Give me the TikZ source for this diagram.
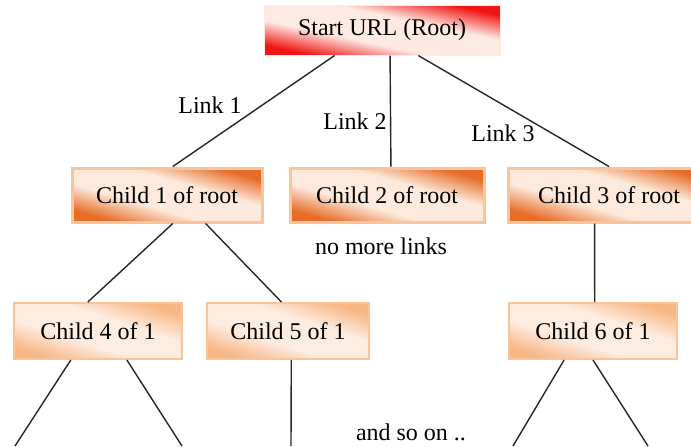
\documentclass[tikz,border=0pt]{standalone}
\usepackage{fontspec}
\setmainfont{Liberation Serif}
\usetikzlibrary{calc}

\definecolor{rootred}{RGB}{240,20,20}
\definecolor{rootlight}{RGB}{253,234,226}
\definecolor{orgdark}{RGB}{230,108,40}
\definecolor{orglight}{RGB}{253,234,220}
\definecolor{orgedge}{RGB}{250,196,152}
\definecolor{leafdark}{RGB}{247,182,132}
\definecolor{leaflight}{RGB}{253,236,224}

% fades, dark at both ends
\pgfdeclarehorizontalshading{rootfade}{100bp}{color(0bp)=(rootred); color(26bp)=(rootred);
    color(41bp)=(rootlight); color(59bp)=(rootlight); color(74bp)=(rootred); color(100bp)=(rootred)}
\pgfdeclarehorizontalshading{childfade}{100bp}{color(0bp)=(orgdark); color(26bp)=(orgdark);
    color(41bp)=(orglight); color(59bp)=(orglight); color(74bp)=(orgdark); color(100bp)=(orgdark)}
\pgfdeclarehorizontalshading{leaffade}{100bp}{color(0bp)=(leafdark); color(25bp)=(leafdark);
    color(41bp)=(leaflight); color(59bp)=(leaflight); color(75bp)=(leafdark); color(100bp)=(leafdark)}

\tikzset{
    rootbox/.style={rectangle, draw=rootlight, line width=0.5pt,
        shading=rootfade, shading angle=78, minimum width=118pt, minimum height=25pt},
    childbox/.style={rectangle, draw=orgedge, line width=1.5pt,
        shading=childfade, shading angle=74, minimum height=27pt},
    leafbox/.style={rectangle, draw=orgedge, line width=1pt,
        shading=leaffade, shading angle=72, minimum width=84pt, minimum height=28pt},
    link/.style={line width=0.7pt, black!85},
}

\begin{document}
\begin{tikzpicture}[x=0.5pt, y=-0.5pt, font=\fontsize{12}{14}\selectfont]

    \useasboundingbox (0,0) rectangle (691,446);

    % root and first level
    \node[rootbox] (root) at (382,30) {Start URL (Root)};

    \node[childbox, minimum width=95pt] (c1) at (167,195) {Child 1 of root};
    \node[childbox, minimum width=97pt] (c2) at (387,195) {Child 2 of root};
    \node[childbox, minimum width=101pt] (c3) at (609,195) {Child 3 of root};

    % second level
    \node[leafbox] (c4) at (98,331) {Child 4 of 1};
    \node[leafbox, minimum width=81pt] (c5) at (288,331) {Child 5 of 1};
    \node[leafbox] (c6) at (593,331) {Child 6 of 1};

    % links out of the root
    \draw[link] ($(root.south west)!.30!(root.south east)$) -- ($(c1.north west)!.53!(c1.north east)$);
    \draw[link] ($(root.south west)!.534!(root.south east)$) -- ($(c2.north west)!.52!(c2.north east)$);
    \draw[link] ($(root.south west)!.653!(root.south east)$) -- (c3.north);

    \node (l1) at (210,105) {Link 1};
    \node (l2) at (355,121) {Link 2};
    \node (l3) at (503,133) {Link 3};

    % children of child 1 and 3
    \draw[link] ($(c1.south west)!.53!(c1.south east)$) -- ($(c4.north west)!.44!(c4.north east)$);
    \draw[link] ($(c1.south west)!.70!(c1.south east)$) -- ($(c5.north west)!.46!(c5.north east)$);
    \draw[link] ($(c3.south west)!.43!(c3.south east)$) -- ($(c6.north west)!.51!(c6.north east)$);

    \node (nomore) at (381,246) {no more links};

    % further links leaving the picture
    \coordinate (e1) at (15,446);
    \coordinate (e2) at (182,446);
    \coordinate (e3) at (291,446);
    \coordinate (e4) at (513,446);
    \coordinate (e5) at (648,446);

    \draw[link] ($(c4.south west)!.34!(c4.south east)$) -- (e1);
    \draw[link] ($(c4.south west)!.67!(c4.south east)$) -- (e2);
    \draw[link] ($(c5.south west)!.52!(c5.south east)$) -- (e3);
    \draw[link] ($(c6.south west)!.33!(c6.south east)$) -- (e4);
    \draw[link] ($(c6.south west)!.50!(c6.south east)$) -- (e5);

    \node (soon) at (411,432) {and so on ..};

\end{tikzpicture}
\end{document}
